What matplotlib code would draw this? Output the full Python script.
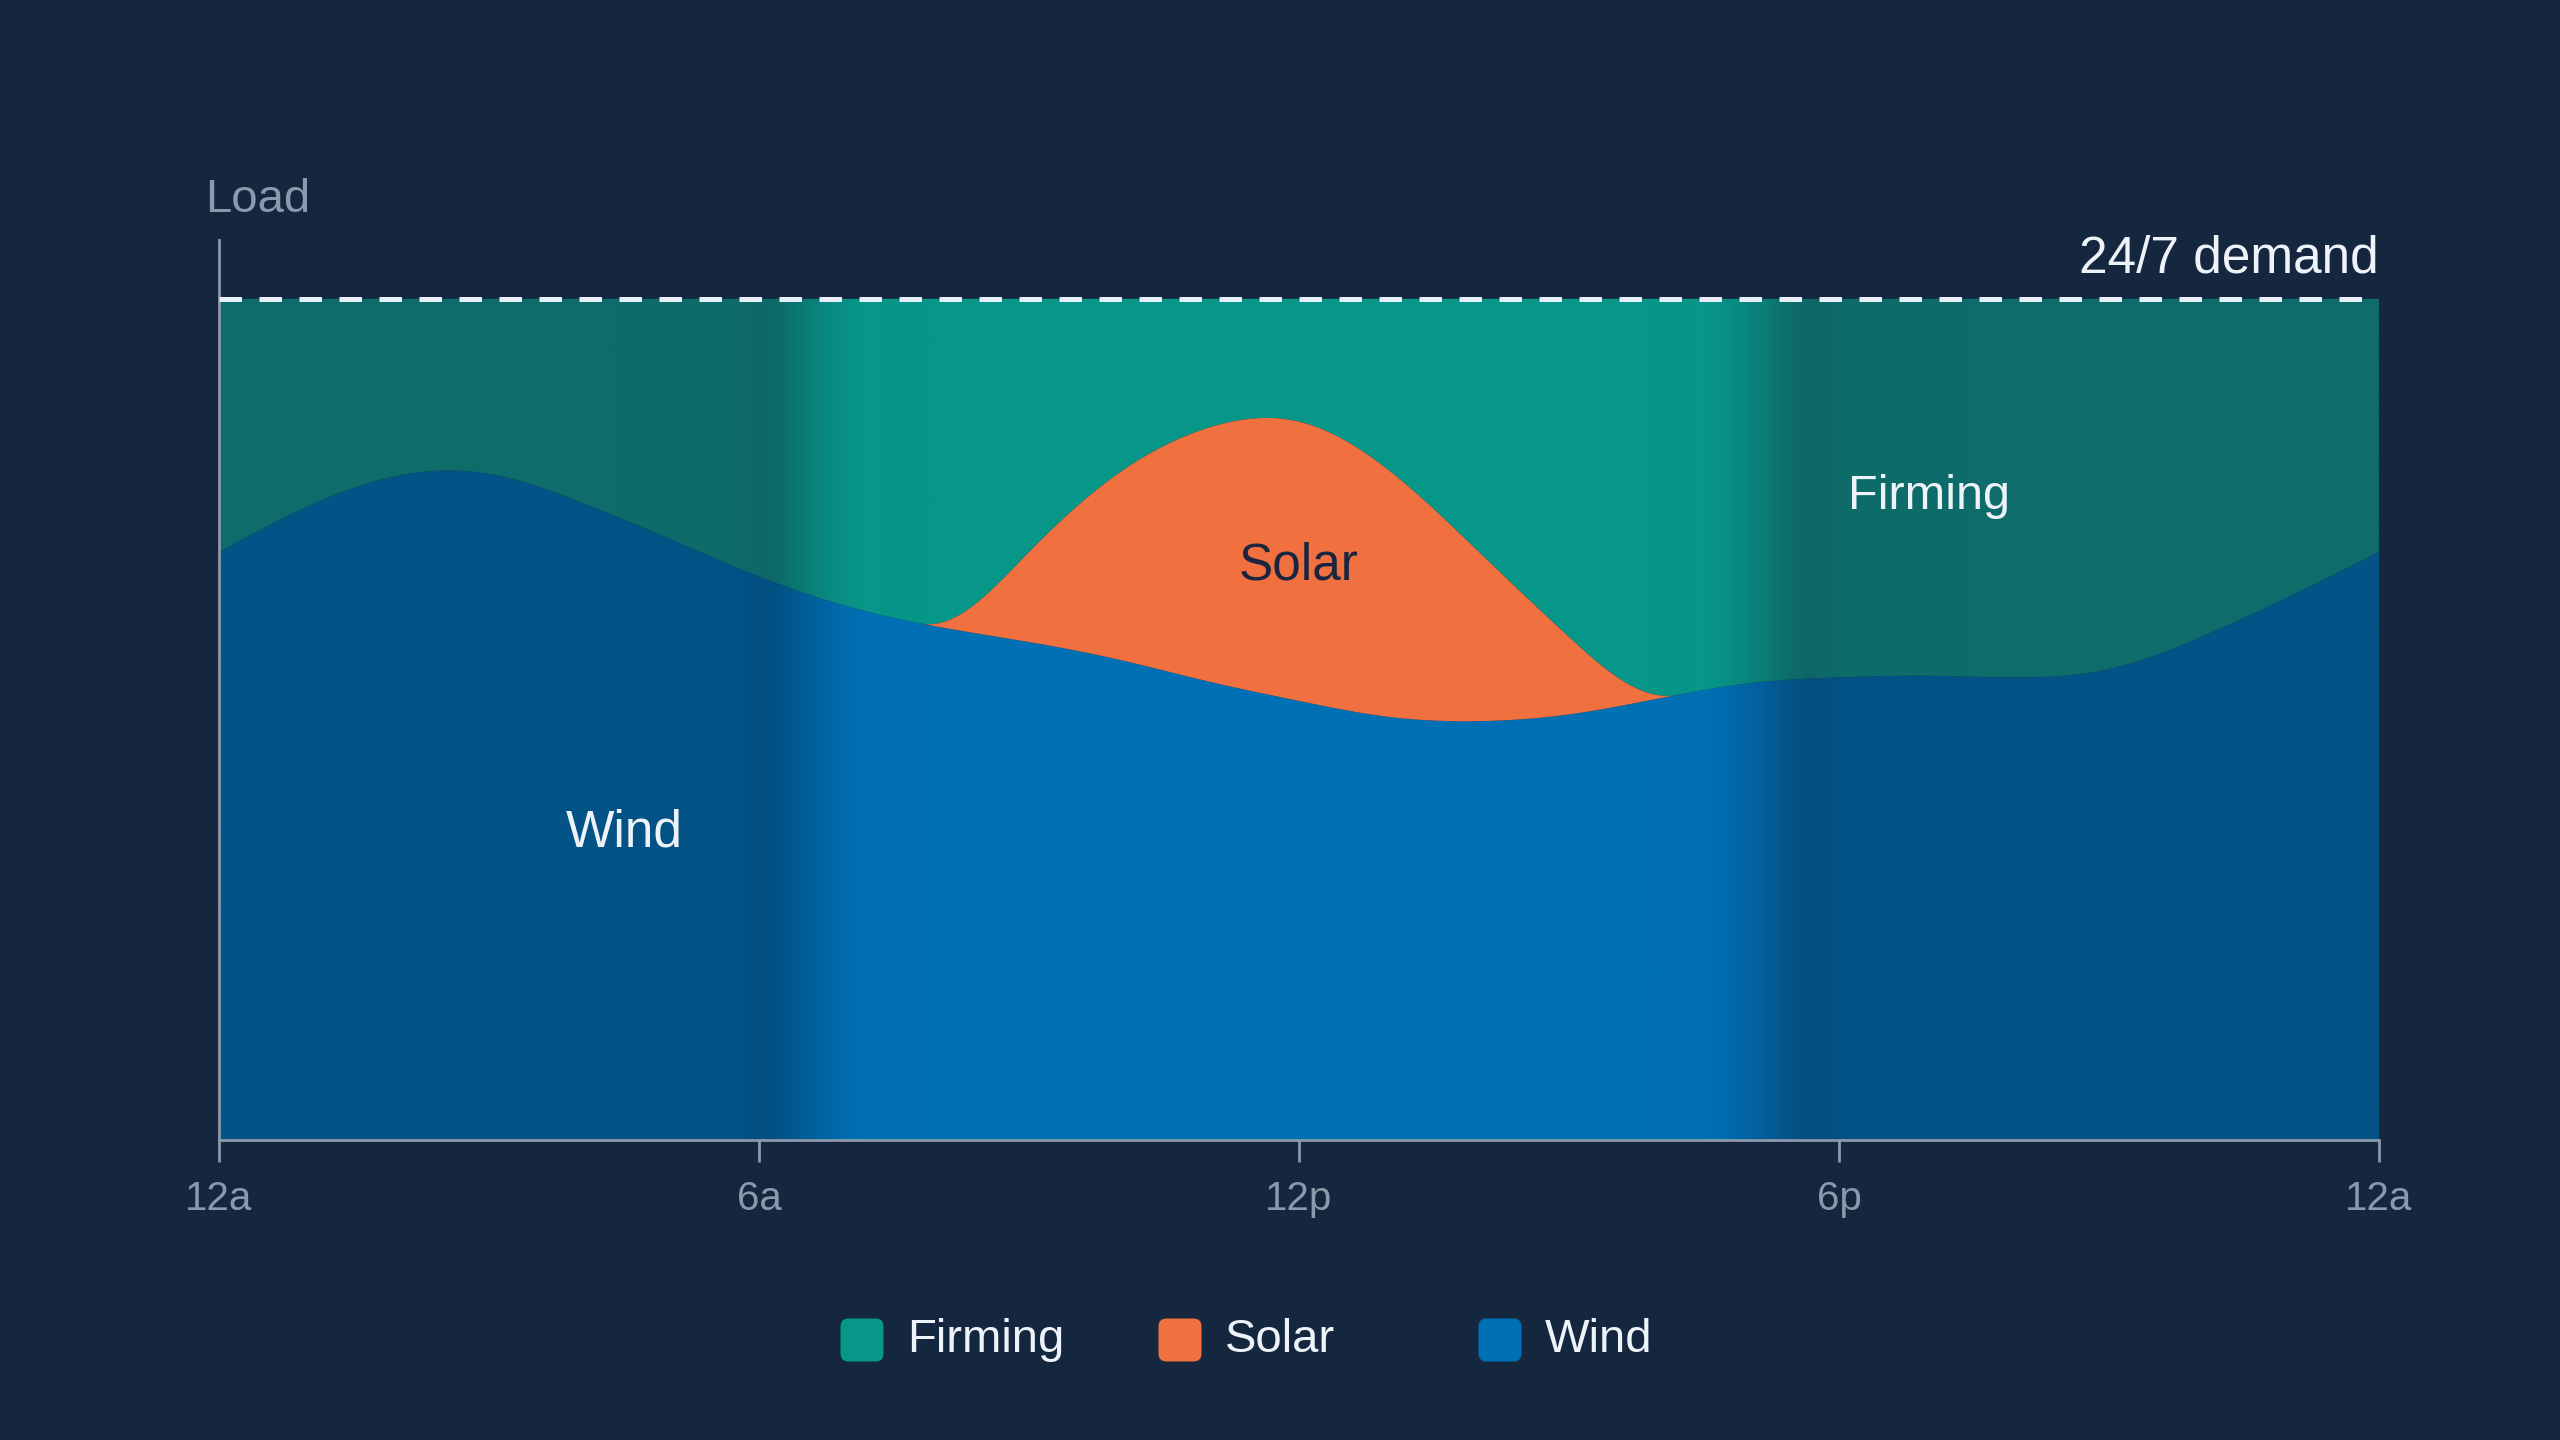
import numpy as np
import matplotlib
matplotlib.use('Agg')
from matplotlib import pyplot as plt
from matplotlib.patches import FancyBboxPatch
from matplotlib.colors import to_rgb
from matplotlib.transforms import IdentityTransform

# load shares (% of the 24/7 demand)
hours = list(range(25))
wind = [69.9, 75.4, 79.0, 79.2, 75.9, 71.5, 67.0, 63.4, 61.0, 59.2, 57.1, 54.5, 52.2,
        50.3, 49.8, 50.6, 52.5, 54.3, 55.0, 55.2, 55.0, 56.0, 59.7, 64.6, 69.9]
solar_hours = [7.8, 9, 10, 11, 12, 13, 14, 15, 16.2]
solar = [0, 10.7, 22.2, 30.2, 33.2, 29.3, 20.1, 9.2, 0]
demand = 100
tick_hours = [0, 6, 12, 18, 24]
tick_labels = ['12a', '6a', '12p', '6p', '12a']
series = ['Firming', 'Solar', 'Wind']

BG = '#15263f'
AXIS = '#8b99ab'
TEXT = '#eef3fa'
FIRM_DAY, FIRM_NIGHT = '#079789', '#0e6c6b'
WIND_DAY, WIND_NIGHT = '#0070b5', '#035387'
SOLAR = '#f07040'

plt.rcParams['font.family'] = ['Liberation Sans', 'DejaVu Sans']


def spline(x, y, xs, clamped=False):
    # cubic spline, only used to draw smooth edges through the read values
    x = np.asarray(x, float)
    y = np.asarray(y, float)
    n = len(x)
    h = np.diff(x)
    A = np.zeros((n, n))
    b = np.zeros(n)
    if clamped:
        # zero slope at both ends
        A[0, 0], A[0, 1] = 2 * h[0], h[0]
        b[0] = 3 * (y[1] - y[0]) / h[0]
        A[-1, -2], A[-1, -1] = h[-1], 2 * h[-1]
        b[-1] = -3 * (y[-1] - y[-2]) / h[-1]
    else:
        A[0, 0] = A[-1, -1] = 1
    for i in range(1, n - 1):
        A[i, i - 1] = h[i - 1]
        A[i, i] = 2 * (h[i - 1] + h[i])
        A[i, i + 1] = h[i]
        b[i] = 3 * ((y[i + 1] - y[i]) / h[i] - (y[i] - y[i - 1]) / h[i - 1])
    c = np.linalg.solve(A, b)
    bc = (y[1:] - y[:-1]) / h - h * (2 * c[:-1] + c[1:]) / 3
    dc = (c[1:] - c[:-1]) / (3 * h)
    idx = np.clip(np.searchsorted(x, xs) - 1, 0, n - 2)
    dx = xs - x[idx]
    return y[idx] + bc[idx] * dx + c[idx] * dx**2 + dc[idx] * dx**3


xs = np.linspace(0, 24, 1600)
wind_s = spline(hours, wind, xs)
inside = (xs >= solar_hours[0]) & (xs <= solar_hours[-1])
solar_s = np.where(inside, np.clip(spline(solar_hours, solar, xs, clamped=True), 0, None), 0)
top_s = wind_s + solar_s


def daylight(h):
    # 0 = night shade, 1 = day shade, with a soft dark seam at each change
    up = np.clip((h - 5.9) / 1.4, 0, 1)
    down = np.clip((17.75 - h) / 1.35, 0, 1)
    t = np.minimum(up, down)
    t = t * t * (3 - 2 * t)
    seam = np.exp(-((h - 6.15) / 0.3) ** 2) + np.exp(-((h - 17.65) / 0.3) ** 2)
    return t, seam


def band(day, night):
    t, seam = daylight(xs)
    d = np.array(to_rgb(day))
    n = np.array(to_rgb(night))
    cols = n[None, :] + t[:, None] * (d - n)[None, :]
    cols = cols * (1 - 0.05 * seam[:, None])
    return cols[None, :, :]


fig = plt.figure(figsize=(25.6, 14.4), dpi=100, facecolor=BG)
ax = fig.add_axes([219 / 2560, 1 - 1140 / 1440, 2160 / 2560, 900 / 1440])
ax.set_facecolor(BG)
ax.set_xlim(0, 24)
ax.set_ylim(0, 107.0)

layers = [
    (np.zeros_like(xs), wind_s, WIND_DAY, WIND_NIGHT),
    (top_s, np.full_like(xs, demand), FIRM_DAY, FIRM_NIGHT),
]
for lo, hi, day, night in layers:
    poly = ax.fill_between(xs, lo, hi, facecolor='none', edgecolor='none')
    im = ax.imshow(band(day, night), extent=[0, 24, 0, demand], aspect='auto',
                   interpolation='bilinear', zorder=1)
    im.set_clip_path(poly.get_paths()[0], transform=ax.transData)

ax.fill_between(xs, wind_s, top_s, where=solar_s > 0, facecolor=SOLAR,
                edgecolor='none', zorder=2)

ax.axhline(demand, color='#e6eef8', lw=3.6, dashes=(4.5, 3.5), zorder=3)

for s in ['top', 'right']:
    ax.spines[s].set_visible(False)
for s in ['left', 'bottom']:
    ax.spines[s].set_color(AXIS)
    ax.spines[s].set_linewidth(2)
ax.set_yticks([])
ax.set_xticks(tick_hours)
ax.set_xticklabels(tick_labels)
ax.tick_params(axis='x', colors=AXIS, length=16, width=2, pad=13, labelsize=29)

ax.text(24, 104.7, '24/7 demand', ha='right', va='center', fontsize=37,
        color=TEXT, fontweight='medium')
ax.text(12.0, 68.3, 'Solar', ha='center', va='center', fontsize=37, color='#1c2540')
ax.text(19.0, 76.5, 'Firming', ha='center', va='center', fontsize=35, color=TEXT)
ax.text(4.5, 36.5, 'Wind', ha='center', va='center', fontsize=37, color=TEXT)

fig.text(205 / 2560, 1 - 212 / 1440, 'Load', ha='left', va='baseline',
         fontsize=34, color=AXIS)

# legend
leg_colors = [FIRM_DAY, SOLAR, WIND_DAY]
leg_x = [862, 1180, 1500]
leg_y = 1440 - 1340
size = 43
for name, col, cx in zip(series, leg_colors, leg_x):
    box = FancyBboxPatch((cx - size / 2, leg_y - size / 2), size, size,
                         boxstyle='round,pad=0,rounding_size=8',
                         facecolor=col, edgecolor='none', transform=IdentityTransform())
    fig.add_artist(box)
    fig.text((cx + 45) / 2560, leg_y / 1440, name, ha='left', va='center',
             fontsize=34, color=TEXT)

fig.savefig('out.png', dpi=100, facecolor=BG)
